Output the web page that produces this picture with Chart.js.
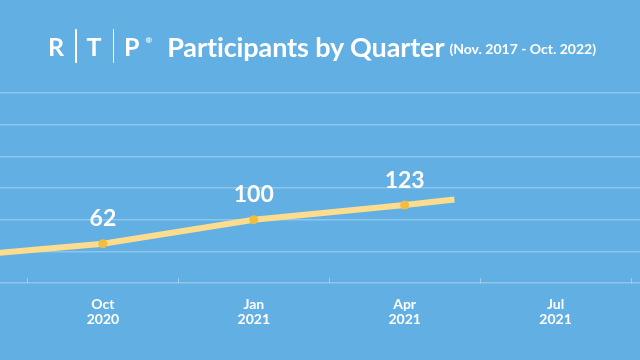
<!DOCTYPE html>
<html>
<head>
<meta charset="utf-8">
<script src="https://cdn.jsdelivr.net/npm/chart.js@4.4.0/dist/chart.umd.min.js"></script>
<style>
  html, body { margin: 0; padding: 0; background: #62afe3; }
  #wrap { position: relative; width: 640px; height: 360px; overflow: hidden; background: #62afe3; }
  #chart { position: absolute; left: 0; top: 0; }
  #title { position: absolute; left: 48px; top: 29px; height: 34px; display: flex; align-items: center;
           color: #fff; font-family: Lato, "Open Sans", sans-serif; font-weight: 700; white-space: nowrap; }
  #title .logo { font-size: 25px; line-height: 34px; }
  #title .bar { display: inline-block; width: 1.5px; height: 34px; background: #fff; margin: 0 10px 0 11px; }
  #title sup { font-size: 8px; align-self: flex-start; margin: 6px 0 0 6px; }
  #title .main { font-size: 27px; margin-left: 15px; letter-spacing: -0.1px; }
  #title .sub { font-size: 14px; margin-left: 5px; margin-top: 5px; }
</style>
</head>
<body>
<div id="wrap">
  <canvas id="chart" width="640" height="360"></canvas>
  <div id="title">
    <span class="logo">R</span><span class="bar"></span><span class="logo">T</span><span class="bar"></span><span class="logo">P</span><sup>®</sup>
    <span class="main">Participants by Quarter</span>
    <span class="sub">(Nov. 2017 - Oct. 2022)</span>
  </div>
</div>
<script>
// quarter positions: 0 = Oct 2020, one step per quarter
const quarterPos     = [-1, 0, 1, 2, 2.33];
const participants   = [41, 62, 100, 123, 132];
const labelledPos    = [0, 1, 2];           // points that get a marker + value
const tickPos        = [0, 1, 2, 3];
const tickLabels     = [['Oct', '2020'], ['Jan', '2021'], ['Apr', '2021'], ['Jul', '2021']];

const points = quarterPos.map((q, i) => ({ x: q, y: participants[i] }));

// value labels above the marked points + little ticks on the bottom line
const valueLabels = {
  id: 'valueLabels',
  afterDatasetsDraw(chart) {
    const ctx = chart.ctx;
    const xs = chart.scales.x, ys = chart.scales.y;
    ctx.save();
    // small ticks between quarters
    ctx.strokeStyle = 'rgba(255,255,255,0.35)';
    ctx.lineWidth = 1;
    const bottom = chart.chartArea.bottom;
    for (let q = -0.5; q < 4; q++) {
      const px = Math.round(xs.getPixelForValue(q)) + 0.5;
      ctx.beginPath();
      ctx.moveTo(px, bottom);
      ctx.lineTo(px, bottom - 5);
      ctx.stroke();
    }
    ctx.fillStyle = '#ffffff';
    ctx.font = 'bold 23px Lato, "Open Sans", sans-serif';
    ctx.textAlign = 'center';
    ctx.textBaseline = 'middle';
    points.forEach(p => {
      if (!labelledPos.includes(p.x)) return;
      ctx.fillText(String(p.y), xs.getPixelForValue(p.x), ys.getPixelForValue(p.y) - 25);
    });
    ctx.restore();
  }
};

new Chart(document.getElementById('chart'), {
  type: 'line',
  data: {
    datasets: [{
      data: points,
      borderColor: '#fcdd8e',
      borderWidth: 6,
      tension: 0,
      borderCapStyle: 'butt',
      pointBackgroundColor: '#f0bd3f',
      pointBorderWidth: 0,
      pointRadius: ctx => labelledPos.includes(ctx.raw && ctx.raw.x) ? 4.5 : 0,
      clip: false
    }]
  },
  options: {
    responsive: false,
    animation: false,
    layout: { padding: { top: 93, bottom: 33, left: 0, right: 0 } },
    plugins: { legend: { display: false }, tooltip: { enabled: false } },
    scales: {
      x: {
        type: 'linear',
        min: -0.682,
        max: 3.56,
        afterBuildTicks: s => { s.ticks = tickPos.map(v => ({ value: v })); },
        afterFit: s => { s.height = 44; },
        grid: { display: false, drawTicks: false },
        border: { display: false },
        ticks: {
          color: '#ffffff',
          padding: 14,
          font: { family: 'Lato, "Open Sans", sans-serif', weight: 'bold', size: 14, lineHeight: 1.05 },
          callback: v => tickLabels[tickPos.indexOf(v)]
        }
      },
      y: {
        min: 0,
        max: 300,
        ticks: { display: false, stepSize: 50 },
        border: { display: false },
        grid: { color: 'rgba(255,255,255,0.28)', lineWidth: 1.5, drawTicks: false }
      }
    }
  },
  plugins: [valueLabels]
});
</script>
</body>
</html>
